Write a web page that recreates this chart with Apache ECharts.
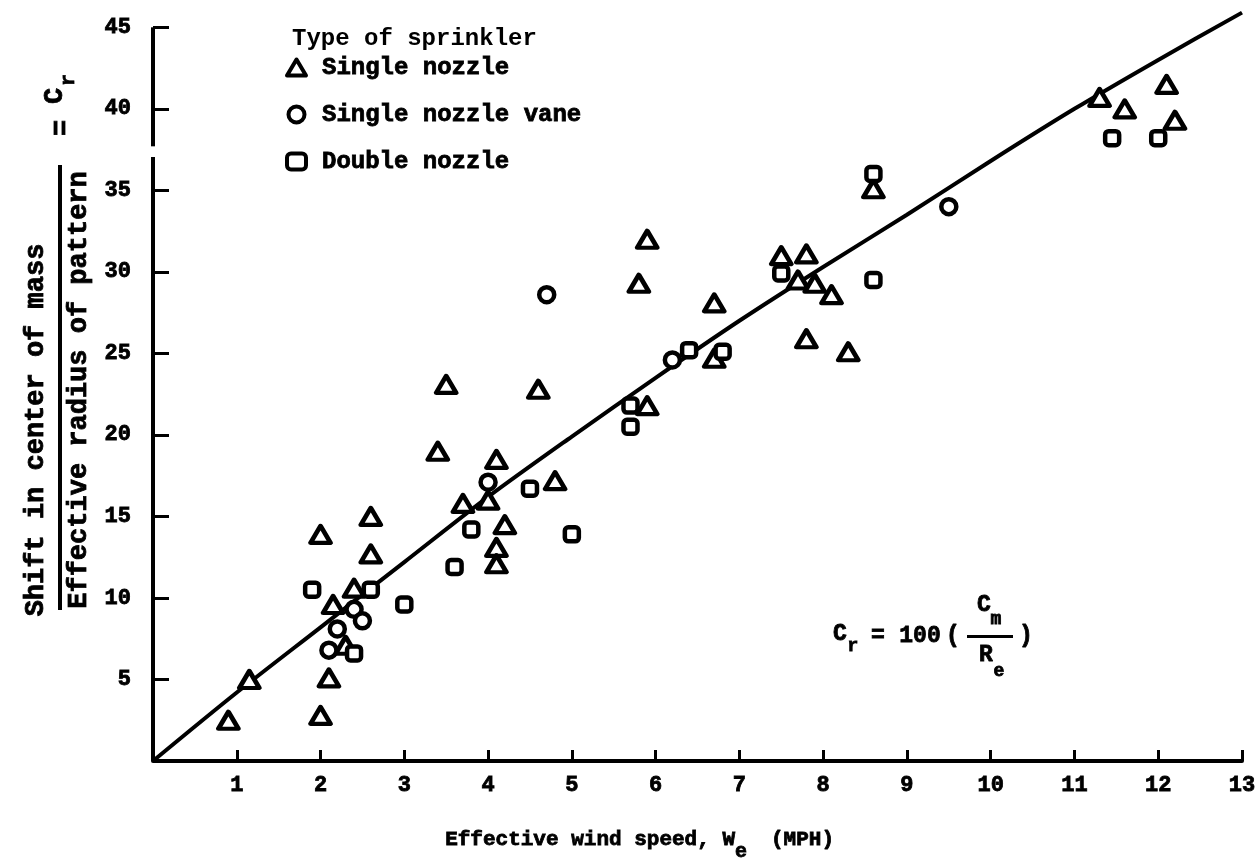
<!DOCTYPE html>
<html><head><meta charset="utf-8">
<script src="https://cdn.jsdelivr.net/npm/echarts/dist/echarts.min.js"></script>
<style>html,body{margin:0;padding:0;background:#fff}#c{width:1259px;height:868px}</style>
</head><body><div id="c"></div>
<script>
// ---- data ----
const xTicks = [1,2,3,4,5,6,7,8,9,10,11,12,13];
const yTicks = [5,10,15,20,25,30,35,40,45];
const seriesNames = ['Single nozzle', 'Single nozzle vane', 'Double nozzle'];
const singleNozzle = [
  [0.9,2.5],[1.15,5.0],[2.0,2.8],[2.1,5.1],[2.3,7.1],[2.15,9.6],[2.4,10.6],[2.0,13.9],
  [2.6,12.7],[2.6,15.0],[3.4,19.0],[3.5,23.1],[3.7,15.8],[4.0,16.0],[4.1,18.5],[4.2,14.5],
  [4.1,13.1],[4.1,12.1],[4.6,22.8],[4.8,17.2],[5.8,29.3],[5.9,32.0],[5.9,21.8],[6.7,28.1],
  [6.7,24.7],[7.5,31.0],[7.8,31.1],[7.7,29.5],[7.9,29.3],[7.8,25.9],[8.1,28.6],[8.3,25.1],
  [8.6,35.1],[11.3,40.7],[11.6,40.0],[12.1,41.5],[12.2,39.3]
];
const singleNozzleVane = [
  [2.1,6.8],[2.2,8.1],[2.4,9.3],[2.5,8.6],[4.0,17.1],[4.7,28.6],[6.2,24.6],[9.5,34.0]
];
const doubleNozzle = [
  [1.9,10.5],[2.4,6.6],[2.6,10.5],[3.0,9.6],[3.6,11.9],[3.8,14.2],[4.5,16.7],[5.0,13.9],
  [5.7,21.8],[5.7,20.5],[6.4,25.2],[6.8,25.1],[7.5,29.9],[8.6,36.0],[8.6,29.5],[11.45,38.2],[12.0,38.2]
];
const fitCurve = [
  [0,0],[1,4.2],[2,8.2],[3,12.2],[4,16.2],[5,19.9],[6,23.5],[7,27.0],
  [8,30.3],[9,33.5],[10,36.8],[11,40.0],[12,43.0],[13,45.9]
];
const yAxisLower = [[0,0],[0,37.05]];
const yAxisUpper = [[0,37.7],[0,45]];

// ---- styling ----
const MONO = '"Liberation Mono", "DejaVu Sans Mono", monospace';
const markerStyle = {color:'#fff', borderColor:'#000', borderWidth:4.5, opacity:1, borderJoin:'round'};
const boldText = {fontFamily: MONO, fontWeight:'bold', color:'#000', textBorderColor:'#000', textBorderWidth:0.8};

const chart = echarts.init(document.getElementById('c'), null, {renderer:'canvas'});
function gtext(x, y, text, size, opts, rot) {
  const el = {
    type:'text', x:x, y:y, silent:true,
    style: Object.assign({text:text, font:'bold ' + size + 'px ' + MONO, fill:'#000',
      stroke:'#000', lineWidth:0.8, align:'center', verticalAlign:'middle'}, opts || {})
  };
  if (rot) { el.rotation = Math.PI / 2; }
  return el;
}
chart.setOption({
  animation:false,
  backgroundColor:'#fff',
  grid:{left:153, right:17, top:11, bottom:107, containLabel:false},
  title:{text:'Type of sprinkler', left:287, top:22,
    textStyle:{fontFamily:MONO, fontSize:24, fontWeight:'bold', color:'#000'}},
  legend:{
    data:seriesNames, orient:'vertical', left:280, top:50,
    itemWidth:19, itemHeight:16, itemGap:22,
    itemStyle:{color:'#fff', borderColor:'#000', borderWidth:4, opacity:1},
    textStyle:Object.assign({fontSize:24, lineHeight:25, padding:[0,0,0,11]}, boldText),
    selectedMode:false
  },
  xAxis:{
    type:'value', min:0, max:13, interval:1,
    axisLine:{show:true, onZero:false, lineStyle:{color:'#000', width:4}},
    axisTick:{show:true, inside:true, length:11, customValues:xTicks, lineStyle:{color:'#000', width:3}},
    axisLabel:Object.assign({customValues:xTicks, margin:13, fontSize:22}, boldText),
    splitLine:{show:false}
  },
  yAxis:{
    type:'value', min:0, max:46,
    axisLine:{show:false},
    axisTick:{show:true, inside:true, length:16, customValues:yTicks, lineStyle:{color:'#000', width:3}},
    axisLabel:Object.assign({customValues:yTicks, margin:22, fontSize:22}, boldText),
    splitLine:{show:false}
  },
  graphic:[
    // y-axis title as a fraction, rotated
    gtext(36, 430, 'Shift in center of mass', 27, {}, true),
    {type:'rect', silent:true, shape:{x:58, y:165, width:4, height:445}, style:{fill:'#000'}},
    gtext(79, 390, 'Effective radius of pattern', 27, {}, true),
    gtext(62, 128, '=', 27, {}, true),
    gtext(55, 96, 'C', 27, {}, true),
    gtext(69, 80, 'r', 20, {}, true),
    // x-axis title
    gtext(735, 840, 'Effective wind speed, W', 21, {align:'right'}),
    gtext(741, 852, 'e', 20, {}),
    gtext(771, 840, '(MPH)', 21, {align:'left'}),
    // formula
    gtext(840, 634, 'C', 23, {}),
    gtext(853, 646, 'r', 18, {}),
    gtext(878, 636, '=', 23, {}),
    gtext(920, 636, '100', 23, {}),
    gtext(953, 636, '(', 23, {}),
    gtext(984, 605, 'C', 23, {}),
    gtext(996, 619, 'm', 18, {}),
    {type:'rect', silent:true, shape:{x:967, y:635, width:46, height:3}, style:{fill:'#000'}},
    gtext(986, 655, 'R', 23, {}),
    gtext(999, 671, 'e', 18, {}),
    gtext(1026, 636, ')', 23, {})
  ],
  series:[
    {name:'fit', type:'line', data:fitCurve, smooth:0.3, showSymbol:false, silent:true, clip:false,
      lineStyle:{color:'#000', width:4}, z:1},
    {name:'yaxis-lower', type:'line', data:yAxisLower, showSymbol:false, silent:true, clip:false,
      lineStyle:{color:'#000', width:4}, z:1},
    {name:'yaxis-upper', type:'line', data:yAxisUpper, showSymbol:false, silent:true, clip:false,
      lineStyle:{color:'#000', width:4}, z:1},
    {name:seriesNames[0], type:'scatter', data:singleNozzle, symbol:'triangle', symbolSize:[20,17],
      itemStyle:markerStyle, z:3},
    {name:seriesNames[1], type:'scatter', data:singleNozzleVane, symbol:'circle', symbolSize:15,
      itemStyle:markerStyle, z:3},
    {name:seriesNames[2], type:'scatter', data:doubleNozzle, symbol:'roundRect', symbolSize:14,
      itemStyle:markerStyle, z:3}
  ]
});
</script></body></html>
